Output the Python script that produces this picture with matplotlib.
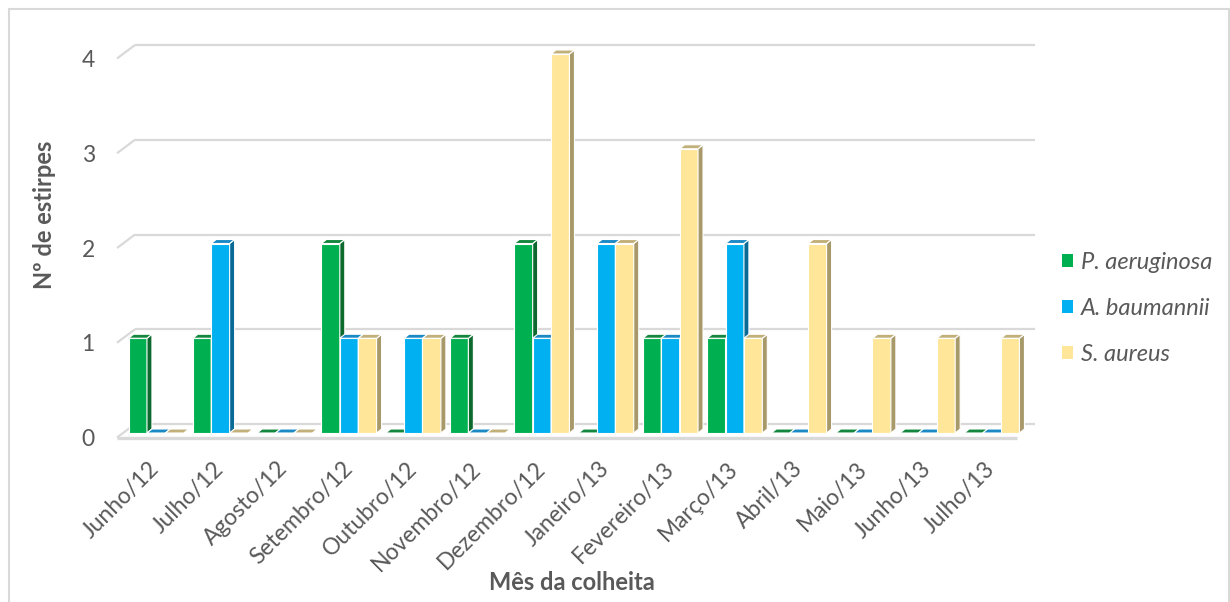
import matplotlib
matplotlib.use("Agg")
import matplotlib.pyplot as plt
from matplotlib.patches import Polygon, Rectangle, Patch

plt.rcParams['font.family'] = ['Lato', 'DejaVu Sans']

categories = ["Junho/12", "Julho/12", "Agosto/12", "Setembro/12", "Outubro/12",
              "Novembro/12", "Dezembro/12", "Janeiro/13", "Fevereiro/13",
              "Março/13", "Abril/13", "Maio/13", "Junho/13", "Julho/13"]
series_names = ["P. aeruginosa", "A. baumannii", "S. aureus"]
p_aeruginosa = [1, 1, 0, 2, 0, 1, 2, 0, 1, 1, 0, 0, 0, 0]
a_baumannii = [0, 2, 0, 1, 1, 0, 1, 2, 1, 2, 0, 0, 0, 0]
s_aureus = [0, 0, 0, 1, 1, 0, 4, 2, 3, 1, 2, 1, 1, 1]
y_ticks = [0, 1, 2, 3, 4]

front_colors = ['#00B050', '#00B0F0', '#FFE699']
top_colors = ['#13873D', '#1A89C4', '#C2B07A']
side_colors = ['#0C6A2E', '#0A6A96', '#A8996A']
text_color = '#595959'
grid_color = '#D9D9D9'

W, H = 1230, 602
fig = plt.figure(figsize=(W / 100, H / 100), dpi=100)

L_px, R_px, B_px, T_px = 117, 1017, 437.5, 58.5
ax = fig.add_axes([L_px / W, (H - B_px) / H, (R_px - L_px) / W, (B_px - T_px) / H])
n = len(categories)
ax.set_xlim(-0.5, n - 0.5)
ax.set_ylim(0, 4)
pxx = (R_px - L_px) / n
pxy = (B_px - T_px) / 4


def dpx(dx, dy):
    return dx / pxx, dy / pxy


bx, by = dpx(7, 4.5)       # bar plane offset
gx, gy = dpx(18, 13.5)     # back wall offset
ddx, ddy = dpx(5, 4)       # bar depth
bw = 18.4 / pxx

# gridlines on back wall with left diagonal
for v in y_ticks:
    ax.plot([-0.5 + gx, n - 0.5 + gx], [v + gy, v + gy], color=grid_color, lw=1.6,
            zorder=1, clip_on=False, solid_capstyle='butt')
    ax.plot([-0.5, -0.5 + gx], [v, v + gy], color=grid_color, lw=1.6,
            zorder=1, clip_on=False, solid_capstyle='butt')
# floor front edge
ax.plot([-0.5, n - 0.5], [0, 0], color=grid_color, lw=2.4, zorder=1, clip_on=False,
        solid_capstyle='butt')

all_series = [p_aeruginosa, a_baumannii, s_aureus]
for i, vals in enumerate(all_series):
    z = 2 + i
    xs = [j + bx + (i - 1) * bw for j in range(n)]
    ax.bar(xs, vals, width=bw, bottom=by, color=front_colors[i], edgecolor='white',
           linewidth=0.8, zorder=z, clip_on=False)
    for xc, v in zip(xs, vals):
        x0, x1 = xc - bw / 2, xc + bw / 2
        y0, y1 = by, by + v
        if v > 0:
            side = Polygon([(x1, y0), (x1, y1), (x1 + ddx, y1 + ddy), (x1 + ddx, y0 + ddy)],
                           closed=True, facecolor=side_colors[i], edgecolor='white',
                           lw=0.8, zorder=z, clip_on=False)
            ax.add_patch(side)
        top = Polygon([(x0, y1), (x1, y1), (x1 + ddx, y1 + ddy), (x0 + ddx, y1 + ddy)],
                      closed=True, facecolor=top_colors[i], edgecolor='white',
                      lw=0.8, zorder=z, clip_on=False)
        ax.add_patch(top)

for s in ax.spines.values():
    s.set_visible(False)
ax.set_yticks(y_ticks)
ax.set_yticklabels([str(t) for t in y_ticks])
ax.set_xticks([j + bx for j in range(n)])
ax.set_xticklabels(categories, rotation=45, ha='right', va='center', rotation_mode='anchor')
ax.tick_params(axis='both', length=0, labelsize=16.5, labelcolor=text_color)
ax.tick_params(axis='y', pad=16)
ax.tick_params(axis='x', pad=20)
ax.patch.set_alpha(0)

fig.text(45 / W, 1 - 215 / H, "Nº de estirpes", rotation=90, ha='center', va='center',
         fontsize=17, fontweight='bold', color=text_color)
fig.text(572 / W, 1 - 583 / H, "Mês da colheita", ha='center', va='center',
         fontsize=17, fontweight='bold', color=text_color)

handles = [Patch(facecolor=c, edgecolor='none') for c in front_colors]
leg = fig.legend(handles, series_names, loc='center left',
                 bbox_to_anchor=(1062 / W, 1 - 308.5 / H), frameon=False, borderpad=0,
                 borderaxespad=0,
                 prop={'style': 'italic', 'size': 17}, handlelength=0.45,
                 handleheight=0.45, handletextpad=0.35, labelspacing=1.05,
                 labelcolor=text_color)

fig.patches.append(Rectangle((9 / W, -0.1), (1229 - 9) / W, (H - 9) / H + 0.1,
                             transform=fig.transFigure, fill=False,
                             edgecolor=grid_color, lw=1.5))

fig.savefig("out.png", dpi=100)
